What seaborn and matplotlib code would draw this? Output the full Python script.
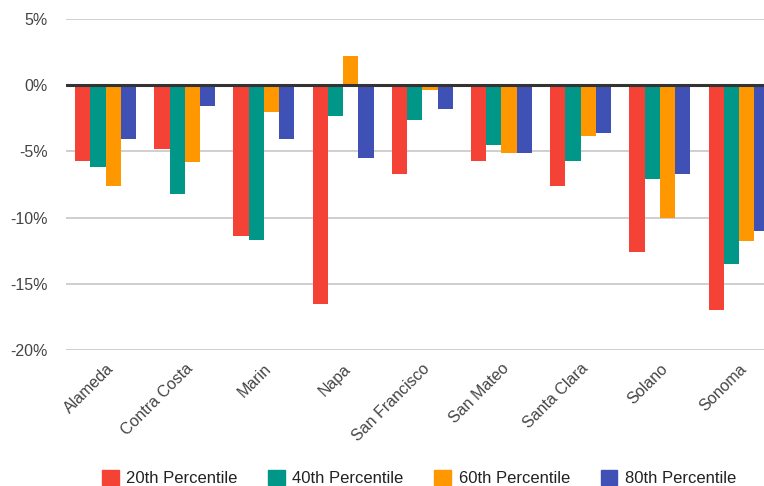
# Bay Area counties - change by income percentile
import numpy as np
import pandas as pd
import matplotlib
matplotlib.use("Agg")
import matplotlib.pyplot as plt
import seaborn as sns

# data (percent)
counties = ["Alameda", "Contra Costa", "Marin", "Napa", "San Francisco",
            "San Mateo", "Santa Clara", "Solano", "Sonoma"]
p20 = [-5.7, -4.8, -11.4, -16.5, -6.7, -5.7, -7.6, -12.6, -17.0]
p40 = [-6.2, -8.2, -11.7, -2.3, -2.6, -4.5, -5.7, -7.1, -13.5]
p60 = [-7.6, -5.8, -2.0, 2.2, -0.4, -5.1, -3.8, -10.0, -11.8]
p80 = [-4.1, -1.6, -4.1, -5.5, -1.8, -5.1, -3.6, -6.7, -11.0]
series = ["20th Percentile", "40th Percentile", "60th Percentile", "80th Percentile"]
colors = ["#F44336", "#009688", "#FF9800", "#3F51B5"]

df = pd.DataFrame({"County": counties, series[0]: p20, series[1]: p40,
                   series[2]: p60, series[3]: p80})
long_df = df.melt(id_vars="County", var_name="Series", value_name="Change")

sns.set_style("white")
plt.rcParams["font.family"] = ["Liberation Sans", "DejaVu Sans"]

fig = plt.figure(figsize=(7.64, 4.86), dpi=100)
ax = fig.add_axes([66 / 764, 136 / 486, 712.6 / 764, 331 / 486])

sns.barplot(data=long_df, x="County", y="Change", hue="Series",
            palette=colors, width=0.77, saturation=1, linewidth=0,
            ax=ax, legend=False, zorder=3)

ax.set_ylim(-20, 5)
ax.set_yticks([-20, -15, -10, -5, 0, 5])
ax.set_yticklabels([f"{t}%" for t in [-20, -15, -10, -5, 0, 5]])
ax.yaxis.grid(True, color="#cccccc", linewidth=1.3, zorder=0)
ax.axhline(0, color="#333333", linewidth=2.2, zorder=4)
ax.set_xlim(-0.5, len(counties) - 0.5)

for s in ax.spines.values():
    s.set_visible(False)
ax.tick_params(axis="both", length=0, colors="#444444", labelsize=11.5)
ax.tick_params(axis="y", pad=13)
ax.tick_params(axis="x", pad=8)
for lbl in ax.get_xticklabels():
    lbl.set_rotation(45)
    lbl.set_ha("right")
    lbl.set_rotation_mode("anchor")
ax.set_xlabel("")
ax.set_ylabel("")

handles = [plt.Rectangle((0, 0), 1, 1, color=c) for c in colors]
fig.legend(handles, series, loc="center", bbox_to_anchor=(419 / 764, 8 / 486),
           ncol=4, frameon=False, fontsize=12, handlelength=1.0,
           handleheight=1.0, handletextpad=0.45, columnspacing=1.85,
           labelcolor="#222222")

fig.savefig("out.png", dpi=100)
